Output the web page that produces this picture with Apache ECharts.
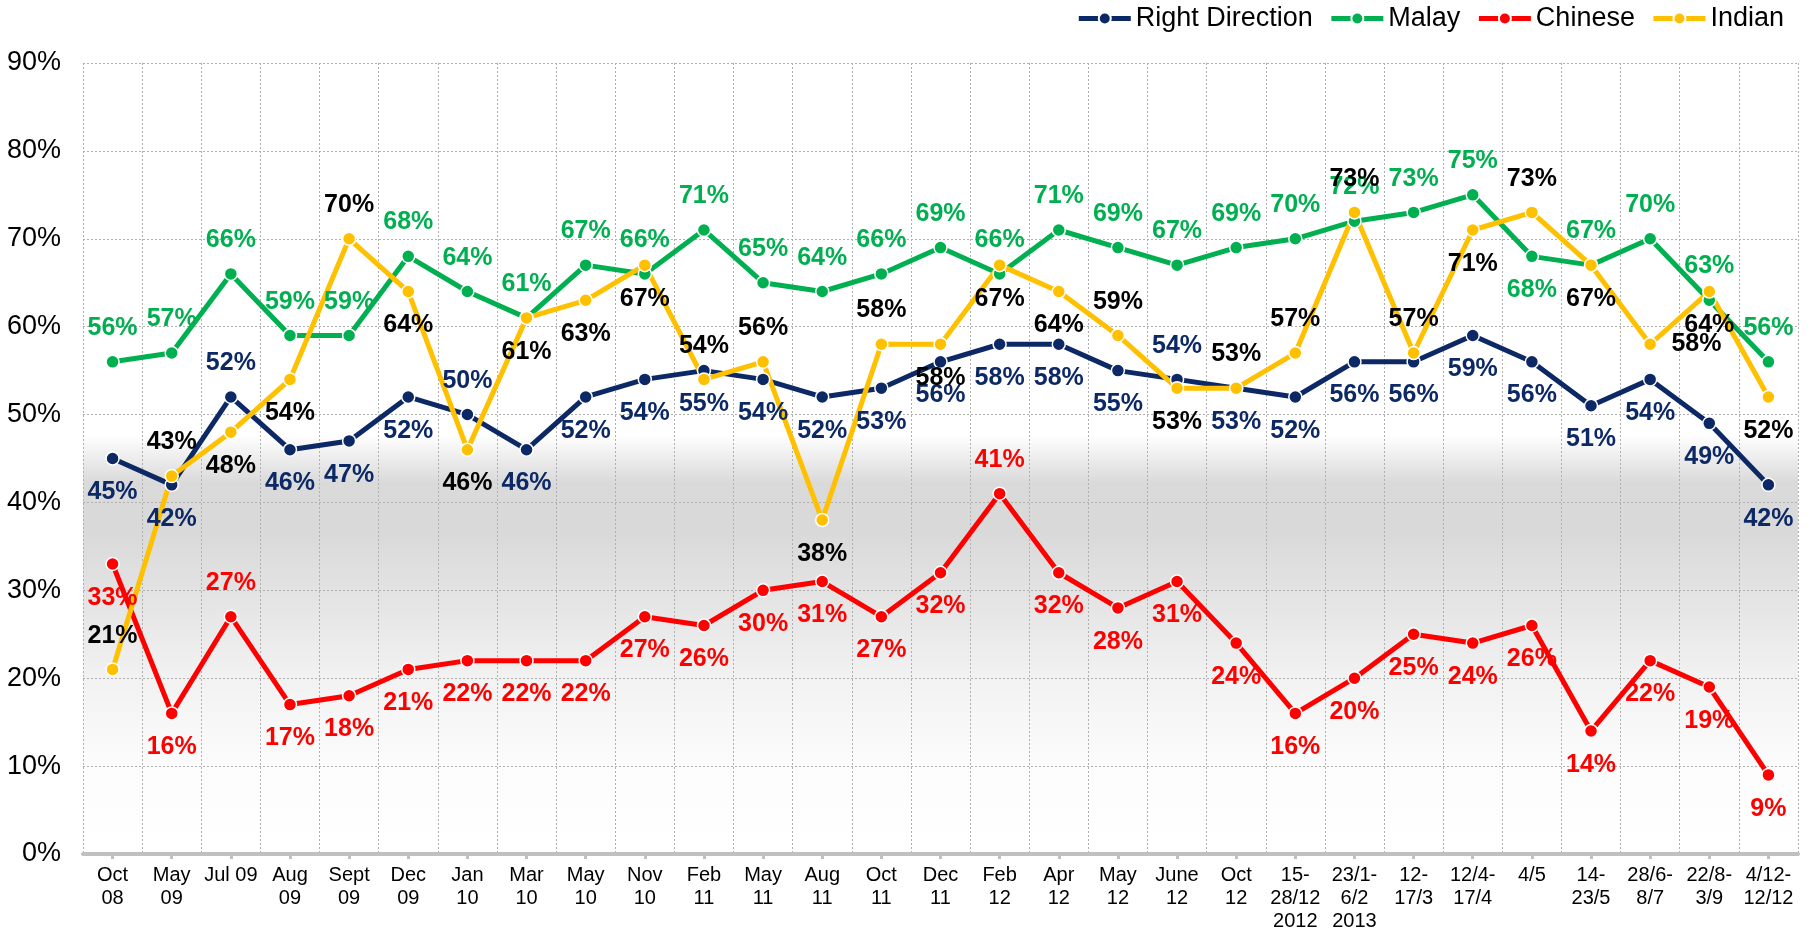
<!DOCTYPE html>
<html>
<head>
<meta charset="utf-8">
<title>Right Direction by race</title>
<script src="https://cdn.jsdelivr.net/npm/echarts@6/dist/echarts.min.js"></script>
<style>
  html, body { margin: 0; padding: 0; background: #fff; }
  #chart-container { width: 1811px; height: 933px; }
</style>
</head>
<body>
<div id="chart-container"></div>
<script>
// survey waves
const categories = [
  "Oct\n08", "May\n09", "Jul 09", "Aug\n09", "Sept\n09", "Dec\n09", "Jan\n10", "Mar\n10",
  "May\n10", "Nov\n10", "Feb\n11", "May\n11", "Aug\n11", "Oct\n11", "Dec\n11", "Feb\n12",
  "Apr\n12", "May\n12", "June\n12", "Oct\n12", "15-\n28/12\n2012", "23/1-\n6/2\n2013",
  "12-\n17/3", "12/4-\n17/4", "4/5", "14-\n23/5", "28/6-\n8/7", "22/8-\n3/9", "4/12-\n12/12"
];

const rightDirection = [45, 42, 52, 46, 47, 52, 50, 46, 52, 54, 55, 54, 52, 53, 56, 58, 58, 55, 54, 53, 52, 56, 56, 59, 56, 51, 54, 49, 42];
const malay = [56, 57, 66, 59, 59, 68, 64, 61, 67, 66, 71, 65, 64, 66, 69, 66, 71, 69, 67, 69, 70, 72, 73, 75, 68, 67, 70, 63, 56];
const chinese = [33, 16, 27, 17, 18, 21, 22, 22, 22, 27, 26, 30, 31, 27, 32, 41, 32, 28, 31, 24, 16, 20, 25, 24, 26, 14, 22, 19, 9];
const indian = [21, 43, 48, 54, 70, 64, 46, 61, 63, 67, 54, 56, 38, 58, 58, 67, 64, 59, 53, 53, 57, 73, 57, 71, 73, 67, 58, 64, 52];

const yTicks = [0, 10, 20, 30, 40, 50, 60, 70, 80, 90];

// where each point's label sits (t = above, b = below, r = right)
const rightPos = "bbtbbbtbbbbbbbbbbbtbbbbbbbbbb";
const malayPos = "ttttttttttttttttttttttttbtttt";
const chinesePos = "bbtbbbbbbbbbbbbtbbbbbbbbbbbbb";
const indianPos = "ttbbtbbbbbttbtbbbtbttttbtbrbb";

const posName = { t: "top", b: "bottom", r: "right" };
const FONT = '"Liberation Sans", Arial, sans-serif';

function makeSeries(name, values, pos, color, labelColor) {
  return {
    name: name,
    type: "line",
    data: values.map((v, i) => ({
      value: v,
      label: { position: posName[pos[i]] },
    })),
    symbol: "circle",
    symbolSize: 13,
    lineStyle: { width: 5, color: color },
    itemStyle: { color: color, borderColor: "#fff", borderWidth: 1.5 },
    label: {
      show: true,
      distance: 14,
      formatter: "{c}%",
      color: labelColor,
      fontFamily: FONT,
      fontWeight: "bold",
      fontSize: 25,
    },
    emphasis: { disabled: true },
    animation: false,
  };
}

const chart = echarts.init(document.getElementById("chart-container"));

const myOption = {
  backgroundColor: "#fff",
  legend: {
    top: 0,
    right: 22,
    itemWidth: 52,
    itemHeight: 15,
    itemGap: 16,
    lineStyle: { width: 5 },
    textStyle: { fontFamily: FONT, fontSize: 27, color: "#000" },
    data: ["Right Direction", "Malay", "Chinese", "Indian"],
  },
  grid: {
    left: 83,
    right: 13,
    top: 63,
    bottom: 78,
    show: true,
    borderWidth: 0,
    backgroundColor: {
      type: "linear",
      x: 0, y: 0, x2: 0, y2: 1,
      colorStops: [
        { offset: 0, color: "#ffffff" },
        { offset: 0.47, color: "#ffffff" },
        { offset: 0.53, color: "#dadada" },
        { offset: 0.59, color: "#d9d9d9" },
        { offset: 0.67, color: "#e3e3e3" },
        { offset: 0.78, color: "#f2f2f2" },
        { offset: 0.89, color: "#fcfcfc" },
        { offset: 1, color: "#ffffff" },
      ],
    },
  },
  xAxis: {
    type: "category",
    data: categories,
    boundaryGap: true,
    axisLine: { show: true, lineStyle: { color: "#c0c0c0", width: 4 } },
    axisTick: { show: true, alignWithLabel: true, length: 5, lineStyle: { color: "#c0c0c0", width: 3 } },
    axisLabel: {
      interval: 0,
      margin: 10,
      color: "#000",
      fontFamily: FONT,
      fontSize: 20,
      lineHeight: 23,
    },
    splitLine: { show: true, lineStyle: { color: "#b0b0b0", type: [2, 2], width: 1 } },
  },
  yAxis: {
    type: "value",
    min: 0,
    max: 90,
    interval: 10,
    axisLine: { show: false },
    axisTick: { show: false },
    axisLabel: {
      margin: 22,
      color: "#000",
      fontFamily: FONT,
      fontSize: 27,
      formatter: (v) => (yTicks.indexOf(v) >= 0 ? v + "%" : ""),
    },
    splitLine: { show: true, lineStyle: { color: "#b0b0b0", type: [2, 2], width: 1 } },
  },
  series: [
    makeSeries("Right Direction", rightDirection, rightPos, "#0c2865", "#0c2865"),
    makeSeries("Malay", malay, malayPos, "#00b050", "#00b050"),
    makeSeries("Chinese", chinese, chinesePos, "#ff0000", "#ff0000"),
    makeSeries("Indian", indian, indianPos, "#ffc000", "#000000"),
  ],
};

chart.setOption(myOption);
</script>
</body>
</html>
